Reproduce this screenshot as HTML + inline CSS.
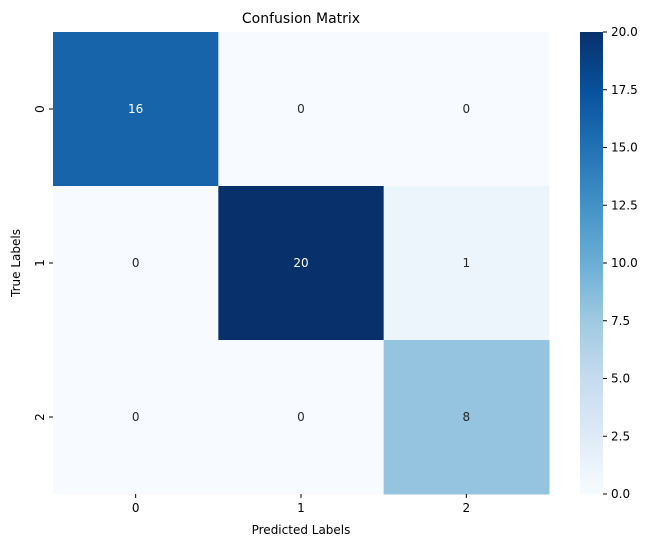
<!DOCTYPE html>
<html><head><meta charset="utf-8"><style>
body{margin:0;background:#fff;font-family:"Liberation Sans","DejaVu Sans",sans-serif;}
</style></head><body>
<svg id="chart" width="653" height="547" xmlns="http://www.w3.org/2000/svg" font-family="DejaVu Sans, Liberation Sans, sans-serif">
<defs><linearGradient id="cbg" x1="0" y1="1" x2="0" y2="0">
<stop offset="0" stop-color="#f7fbff"/><stop offset="0.125" stop-color="#deebf7"/><stop offset="0.25" stop-color="#c6dbef"/><stop offset="0.375" stop-color="#9ecae1"/><stop offset="0.5" stop-color="#6baed6"/><stop offset="0.625" stop-color="#4292c6"/><stop offset="0.75" stop-color="#2171b5"/><stop offset="0.875" stop-color="#08519c"/><stop offset="1" stop-color="#08306b"/></linearGradient></defs>
<text x="301" y="23" font-size="14" text-anchor="middle">Confusion Matrix</text>
<g id="cells"></g>
<rect x="580" y="32" width="23" height="462" fill="url(#cbg)"/>
<g id="cbticks"></g>
<text x="301" y="534" font-size="12" text-anchor="middle">Predicted Labels</text>
<text transform="translate(20,263) rotate(-90)" font-size="12" text-anchor="middle">True Labels</text>
</svg>
<script>
const classes=["0","1","2"];
const matrix=[[16,0,0],[0,20,1],[0,0,8]];
const vmin=0, vmax=20;
const cbTicks=[0,2.5,5,7.5,10,12.5,15,17.5,20];
const NS="http://www.w3.org/2000/svg";
const L=53,T=32,W=496,H=462;
const stops=["#f7fbff","#deebf7","#c6dbef","#9ecae1","#6baed6","#4292c6","#2171b5","#08519c","#08306b"];
function hex(h){return [1,3,5].map(i=>parseInt(h.substr(i,2),16));}
function color(v){let t=(v-vmin)/(vmax-vmin)*8;let i=Math.min(7,Math.floor(t));let f=t-i;let a=hex(stops[i]),b=hex(stops[i+1]);return "rgb("+a.map((x,k)=>Math.round(x+(b[k]-x)*f)).join(",")+")";}
function mk(tag,attrs,parent){const e=document.createElementNS(NS,tag);for(const k in attrs)e.setAttribute(k,attrs[k]);parent.appendChild(e);return e;}
const svg=document.getElementById("chart");
const g=document.getElementById("cells");
const cw=W/classes.length,ch=H/classes.length;
matrix.forEach((row,r)=>row.forEach((v,c)=>{
 const rect=mk("rect",{x:L+c*cw,y:T+r*ch,width:cw+0.5,height:ch+0.5,fill:color(v)},g);
 
 
 const t=mk("text",{x:L+(c+0.5)*cw,y:T+(r+0.5)*ch+4,"font-size":"12","text-anchor":"middle",fill:v>10?"#fff":"#262626"},g);
 
 
 t.textContent=v;
}));
classes.forEach((c,i)=>{
 const x=L+(i+0.5)*cw;
 mk("line",{x1:x,x2:x,y1:T+H,y2:T+H+4,stroke:"#000"},svg);
 const t=mk("text",{x:x,y:T+H+18,"font-size":"12","text-anchor":"middle"},svg);
 
 
 t.textContent=c;
 const y=T+(i+0.5)*ch;
 mk("line",{x1:L-4,x2:L,y1:y,y2:y,stroke:"#000"},svg);
 const ty=mk("text",{transform:"translate("+(L-9)+","+y+") rotate(-90)","font-size":"12","text-anchor":"middle"},svg);
 
 
 ty.textContent=c;
});
const cb=document.getElementById("cbticks");
cbTicks.forEach(v=>{
 const y=T+H-(v-vmin)/(vmax-vmin)*H;
 mk("line",{x1:603,x2:607,y1:y,y2:y,stroke:"#000"},cb);
 const t=mk("text",{x:611,y:y+4,"font-size":"12"},cb);
 
 
 t.textContent=v.toFixed(1);
});
</script>
</body></html>
